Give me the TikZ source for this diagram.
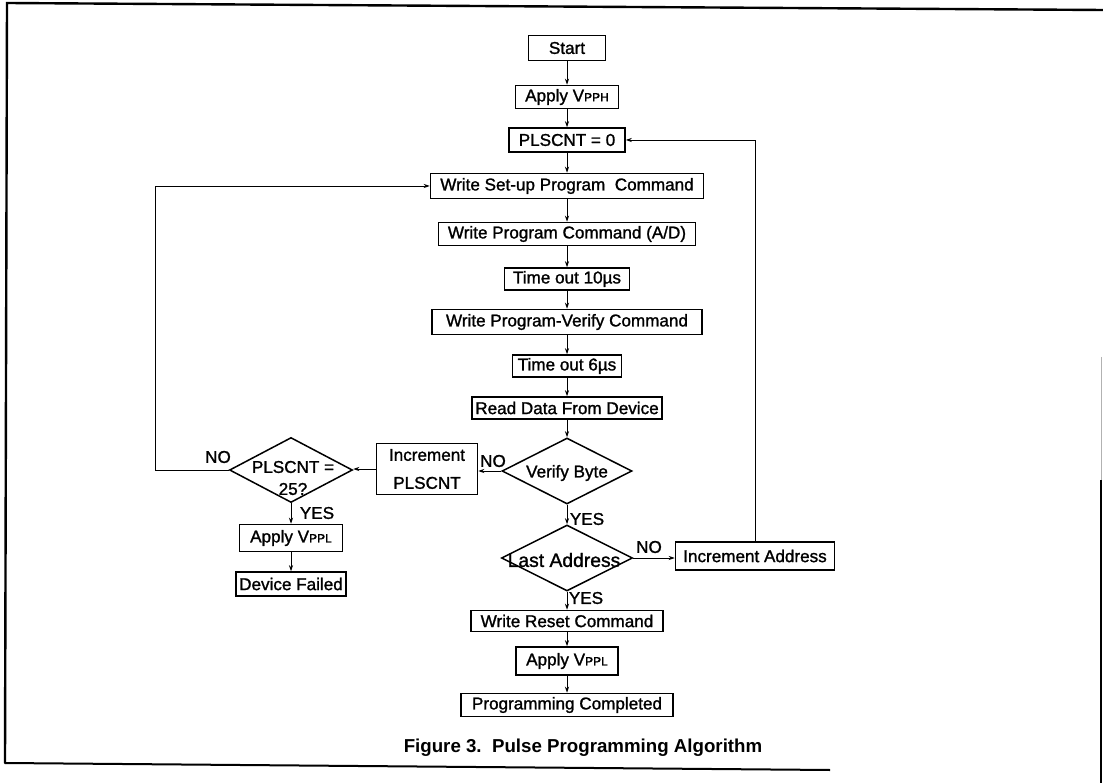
\documentclass[tikz,border=0pt]{standalone}
\usepackage{fontspec}
\setmainfont{Liberation Sans}
\usetikzlibrary{shapes.geometric,arrows.meta}
\newcommand\boxfont{\fontsize{17.1}{28}\selectfont\addfontfeatures{FakeBold=1.3}}
\newcommand\smallsub[1]{{\fontsize{12}{12}\selectfont #1}}
\tikzset{
  box/.style={draw, line width=1.5pt, inner sep=0pt, align=center, font=\boxfont},
  dia/.style={draw, shape=diamond, line width=1.5pt, inner sep=0pt},
  flow/.style={line width=0.9pt, -{Stealth[length=6pt,width=4pt]}},
  tag/.style={font=\boxfont, inner sep=0pt, align=center},
  frame/.style={line width=2.4pt, line cap=round}
}
\begin{document}
\begin{tikzpicture}[x=1pt,y=-1pt]
\useasboundingbox (0,0) rectangle (1103,783);

% outer frame
\draw[frame] (5,763) -- (7,3) -- (1103,10);
\draw[line width=2pt] (5,763) -- (830,770);
\draw[line width=1pt, gray!60] (1101,357) -- (1101,480);
\draw[line width=1.6pt] (1101,480) -- (1101,783);

% main column
\node[box, minimum width=77pt,  minimum height=25pt] (start)  at (567,48)  {Start};
\node[box, minimum width=103pt, minimum height=23pt] (vpph)   at (567,97)  {Apply V\smallsub{PPH}};
\node[box, minimum width=116pt, minimum height=24pt] (pls0)   at (567,140) {PLSCNT = 0};
\node[box, minimum width=273pt, minimum height=25pt] (setup)  at (567,186) {Write Set-up Program\ \ Command};
\node[box, minimum width=257pt, minimum height=23pt] (prog)   at (567,234) {Write Program Command (A/D)};
\node[box, minimum width=125pt, minimum height=22pt] (tten)   at (567,279) {Time out 10µs};
\node[box, minimum width=270pt, minimum height=25pt] (pver)   at (567,322) {Write Program-Verify Command};
\node[box, minimum width=109pt, minimum height=22pt] (tsix)   at (567,366) {Time out 6µs};
\node[box, minimum width=190pt, minimum height=22pt] (read)   at (567,408) {Read Data From Device};
\node[dia, minimum width=130pt, minimum height=66pt] (vbyte)  at (567,471) {};
\node[tag] (vbytet) at (567,473) {Verify Byte};
\node[dia, minimum width=131pt, minimum height=66pt] (last)   at (567,558) {};
\node[tag, font=\fontsize{19.3}{24}\selectfont\addfontfeatures{FakeBold=1.3}] (lastt) at (564,560) {Last Address};
\node[box, minimum width=192pt, minimum height=21pt] (reset)  at (567,621) {Write Reset Command};
\node[box, minimum width=102pt, minimum height=28pt] (vppl)   at (567,661) {Apply V\smallsub{PPL}};
\node[box, minimum width=212pt, minimum height=23pt] (done)   at (567,705) {Programming Completed};

% retry branch
\node[box, minimum width=101pt, minimum height=51pt] (incp)   at (427,469) {Increment\\PLSCNT};
\node[dia, minimum width=123pt, minimum height=65pt] (p25)    at (291,470) {};
\node[tag] (p25t) at (293,478) {PLSCNT =\\[-6pt]25?};
\node[box, minimum width=103pt, minimum height=27pt] (vpplf)  at (291,538) {Apply V\smallsub{PPL}};
\node[box, minimum width=110pt, minimum height=24pt] (fail)   at (291,584) {Device Failed};

% next address
\node[box, minimum width=159pt, minimum height=28pt] (inca)   at (755,556) {Increment Address};

% branch labels
\node[tag] (noa)  at (493,461) {NO};
\node[tag] (nob)  at (218,457) {NO};
\node[tag] (yesa) at (317,513) {YES};
\node[tag] (yesb) at (587,519) {YES};
\node[tag] (noc)  at (649,547) {NO};
\node[tag] (yesc) at (586,598) {YES};

\coordinate (lx) at (155,0);

% straight flow
\draw[flow] (start) -- (vpph);
\draw[flow] (vpph) -- (pls0);
\draw[flow] (pls0) -- (setup);
\draw[flow] (setup) -- (prog);
\draw[flow] (prog) -- (tten);
\draw[flow] (tten) -- (pver);
\draw[flow] (pver) -- (tsix);
\draw[flow] (tsix) -- (read);
\draw[flow] (read) -- (vbyte);
\draw[flow] (vbyte) -- (last);
\draw[flow] (last) -- (reset);
\draw[flow] (reset) -- (vppl);
\draw[flow] (vppl) -- (done);

% failure path
\draw[flow] (vbyte.west) -- (vbyte.west -| incp.east);
\draw[flow] (incp.west) -- (incp.west -| p25.east);
\draw[flow] (p25.west) -- (p25.west -| lx) |- (setup.west);
\draw[flow] (p25.south) -- (vpplf.north);
\draw[flow] (vpplf) -- (fail);

% address loop
\draw[flow] (last.east) -- (last.east -| inca.west);
\draw[flow] (inca.north) |- (pls0.east);

% caption
\node[font=\bfseries\fontsize{18.7}{22}\selectfont, anchor=base, inner sep=0pt] (cap) at (583,752) {Figure 3.\ \ Pulse Programming Algorithm};
\end{tikzpicture}
\end{document}
